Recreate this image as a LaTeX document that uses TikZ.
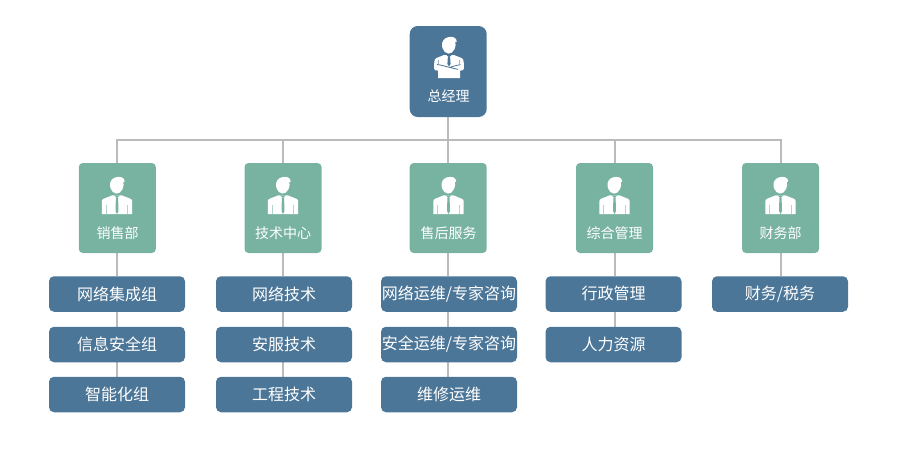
\documentclass[tikz,border=0pt]{standalone}
\usepackage{fontspec}
\setmainfont{Noto Sans CJK SC}
\definecolor{navy}{HTML}{4C7698}
\definecolor{teal}{HTML}{78B3A1}
\definecolor{wire}{HTML}{BBBBBB}
\pgfdeclarelayer{wires}
\pgfsetlayers{wires,main}
% Head with a swept fringe, shared by both figures.
\newcommand{\personhead}{%
  \fill[white] (-4,1.6) .. controls (-1,-0.6) and (4,-0.6) .. (6,1)
    .. controls (7.4,2) and (7.8,3.6) .. (7.6,5.2)
    .. controls (7,4.6) and (6.6,4.4) .. (6.2,4.4)
    .. controls (6.8,7) and (6.9,9.5) .. (5.6,12)
    .. controls (4.2,15) and (2,16.6) .. (-0.5,16.6)
    .. controls (-3.4,16.6) and (-5.4,14) .. (-6.4,11.4)
    .. controls (-7.6,8) and (-7.2,4) .. (-4,1.6) -- cycle;
}
% Figure of a person; #1 is the colour of the box behind it (tie and seams).
\newcommand{\personfigure}[1]{%
  \personhead
  \fill[white] (-5,18.4) -- (5,18.4) -- (13.5,21.8)
    .. controls (14.8,22.4) and (15.2,23.4) .. (15.2,25) -- (15.2,37) -- (-15.2,37) -- (-15.2,25)
    .. controls (-15.2,23.4) and (-14.8,22.4) .. (-13.5,21.8) -- cycle;
  \fill[#1] (-2.8,18.4) -- (0,21) -- (2.8,18.4) -- cycle;
  \fill[#1] (-1.1,20.6) -- (1.1,20.6) -- (1.5,34) -- (0,37) -- (-1.5,34) -- cycle;
  \draw[#1,opacity=0.55,line width=1pt] (-10.6,28) -- (-10.6,37) (10.6,28) -- (10.6,37);
}
% Variant with folded arms, used at the head of the chart.
\newcommand{\bossfigure}[1]{%
  \personhead
  \fill[white] (-5,18) -- (5,18) -- (12.5,21)
    .. controls (14,21.6) and (14.6,23) .. (14.7,25) -- (15,31)
    .. controls (15,33) and (13.5,34) .. (11,33.6) -- (11,41) -- (-11,41) -- (-11,33.6)
    .. controls (-13.5,34) and (-15,33) .. (-15,31) -- (-14.7,25)
    .. controls (-14.6,23) and (-14,21.6) .. (-12.5,21) -- cycle;
  \fill[#1] (-2.6,18) -- (0,20.4) -- (2.6,18) -- cycle;
  \fill[#1] (-1.1,20) -- (1.1,20) -- (1.6,27) -- (0,29.5) -- (-1.6,27) -- cycle;
  \draw[#1,line width=0.8pt] (-12,27.4) .. controls (-6,28.4) and (2,31) .. (9,32.4)
    (11.5,27.6) .. controls (7,28.6) and (3,29.4) .. (0.8,30.4);
  \draw[#1,opacity=0.55,line width=0.8pt] (-10.6,22.5) -- (-10.6,27) (10.6,22.5) -- (10.6,27);
}
\tikzset{
  boxbase/.style={inner sep=0pt,outer sep=0pt,text=white,align=center},
  headbox/.style={boxbase,fill=navy,rounded corners=8pt,minimum width=77pt,minimum height=91pt},
  deptbox/.style={boxbase,fill=teal,rounded corners=4pt,minimum width=77pt,minimum height=90pt},
  leafbox/.style={boxbase,fill=navy,rounded corners=5pt,minimum width=136pt,minimum height=35.5pt,font=\fontsize{16}{16}\selectfont},
  caption/.style={inner sep=0pt,text=white,font=\fontsize{14}{14}\selectfont},
  wireline/.style={draw=wire,line width=2pt}
}
\newcommand{\leaf}[1]{\raisebox{1.6pt}{#1}}
\begin{document}
\begin{tikzpicture}[x=1pt,y=-1pt]
\useasboundingbox (0,0) rectangle (900,453);
\coordinate (bus) at (448,140);

% Chart head and departments
\node[headbox] (head) at (448.2,71.5) {};
\node[deptbox] (d1) at (117.3,208) {};
\node[deptbox] (d2) at (283,208) {};
\node[deptbox] (d3) at (448.2,208) {};
\node[deptbox] (d4) at (614.5,208) {};
\node[deptbox] (d5) at (780.5,208) {};

% Groups below each department
\node[leafbox] (a1) at (117,294) {\leaf{网络集成组}};
\node[leafbox] (a2) at (117,344.5) {\leaf{信息安全组}};
\node[leafbox] (a3) at (117,394.5) {\leaf{智能化组}};
\node[leafbox] (b1) at (284,294) {\leaf{网络技术}};
\node[leafbox] (b2) at (284,344.5) {\leaf{安服技术}};
\node[leafbox] (b3) at (284,394.5) {\leaf{工程技术}};
\node[leafbox] (c1) at (449,294) {\leaf{网络运维/专家咨询}};
\node[leafbox] (c2) at (449,344.5) {\leaf{安全运维/专家咨询}};
\node[leafbox] (c3) at (449,394.5) {\leaf{维修运维}};
\node[leafbox] (e1) at (613.5,294) {\leaf{行政管理}};
\node[leafbox] (e2) at (613.5,344.5) {\leaf{人力资源}};
\node[leafbox] (f1) at (780,294) {\leaf{财务/税务}};

% Connectors, kept behind the boxes; each column's line follows its department
\begin{pgfonlayer}{wires}
  \draw[wireline] (head.south) -- (d3.north);
  \draw[wireline] (d1.north) |- (bus);
  \draw[wireline] (d2.north) |- (bus);
  \draw[wireline] (d4.north) |- (bus);
  \draw[wireline] (d5.north) |- (bus);
  \draw[wireline] (d1.south) -- (a1.north -| d1.south);
  \draw[wireline] (d2.south) -- (b1.north -| d2.south);
  \draw[wireline] (d3.south) -- (c1.north -| d3.south);
  \draw[wireline] (d4.south) -- (e1.north -| d4.south);
  \draw[wireline] (d5.south) -- (f1.north -| d5.south);
  \draw[wireline] (a1.south -| d1.south) -- (a2.north -| d1.south);
  \draw[wireline] (a2.south -| d1.south) -- (a3.north -| d1.south);
  \draw[wireline] (b1.south -| d2.south) -- (b2.north -| d2.south);
  \draw[wireline] (b2.south -| d2.south) -- (b3.north -| d2.south);
  \draw[wireline] (c1.south -| d3.south) -- (c2.north -| d3.south);
  \draw[wireline] (c2.south -| d3.south) -- (c3.north -| d3.south);
  \draw[wireline] (e1.south -| d4.south) -- (e2.north -| d4.south);
\end{pgfonlayer}

% Figures and captions
\begin{scope}[shift={(449,37)}] \bossfigure{navy} \end{scope}
\node[caption] (t0) at (448.5,96.5) {总经理};
\begin{scope}[shift={(117,177)}] \personfigure{teal} \end{scope}
\begin{scope}[shift={(283,177)}] \personfigure{teal} \end{scope}
\begin{scope}[shift={(448.5,177)}] \personfigure{teal} \end{scope}
\begin{scope}[shift={(614.5,177)}] \personfigure{teal} \end{scope}
\begin{scope}[shift={(780.5,177)}] \personfigure{teal} \end{scope}
\node[caption] (t1) at (117.5,233) {销售部};
\node[caption] (t2) at (283,233) {技术中心};
\node[caption] (t3) at (448.5,233) {售后服务};
\node[caption] (t4) at (614.5,233) {综合管理};
\node[caption] (t5) at (780.5,233) {财务部};
\end{tikzpicture}
\end{document}
